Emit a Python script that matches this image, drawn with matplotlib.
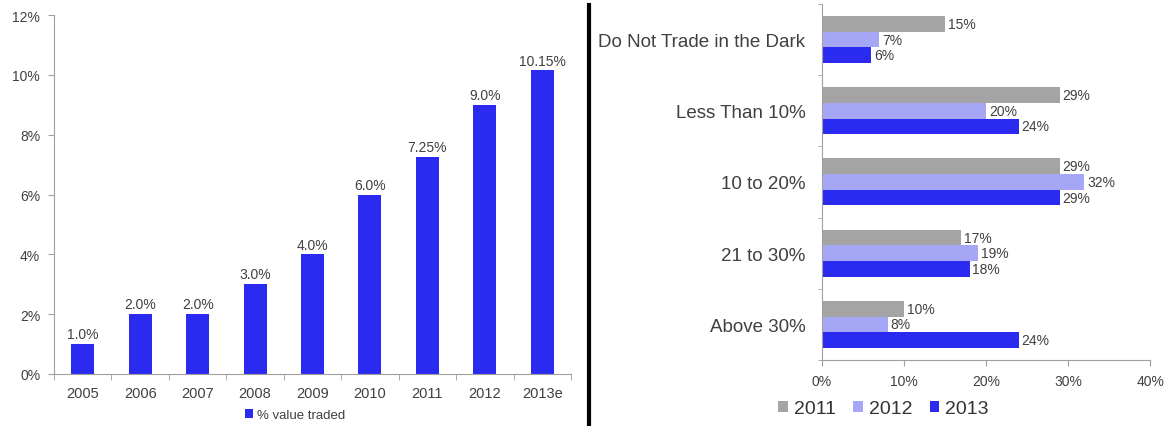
import matplotlib
matplotlib.use("Agg")
import matplotlib.pyplot as plt
import matplotlib.ticker as mtick
import numpy as np
from matplotlib.lines import Line2D

plt.rcParams['font.family'] = ['Liberation Sans', 'DejaVu Sans']

# left panel: share of value traded per year
years = ["2005", "2006", "2007", "2008", "2009", "2010", "2011", "2012", "2013e"]
value_traded = [1.0, 2.0, 2.0, 3.0, 4.0, 6.0, 7.25, 9.0, 10.15]
value_labels = ["1.0%", "2.0%", "2.0%", "3.0%", "4.0%", "6.0%", "7.25%", "9.0%", "10.15%"]

# right panel: survey buckets by year
buckets = ["Do Not Trade in the Dark", "Less Than 10%", "10 to 20%", "21 to 30%", "Above 30%"]
share_2011 = [15, 29, 29, 17, 10]
share_2012 = [7, 20, 32, 19, 8]
share_2013 = [6, 24, 29, 18, 24]

BLUE = "#2a2af0"
LILAC = "#a6a6f6"
GREY = "#a4a4a4"
TXT = "#404040"
SPINE = "#a0a0a0"

fig = plt.figure(figsize=(11.67, 4.27), dpi=100)

# ---- left bar chart
ax1 = fig.add_axes([0.0463, 0.1218, 0.443, 0.8407])
x = np.arange(len(years))
bars = ax1.bar(x, value_traded, width=0.40, color=BLUE, label="% value traded", zorder=2)
for xi, v, lab in zip(x, value_traded, value_labels):
    ax1.annotate(lab, (xi, v), xytext=(0, 2), textcoords="offset points",
                 ha="center", va="bottom", fontsize=10, color=TXT)
ax1.set_xlim(-0.5, len(years) - 0.5)
ax1.set_ylim(0, 12)
ax1.set_yticks(np.arange(0, 13, 2))
ax1.yaxis.set_major_formatter(mtick.FormatStrFormatter('%d%%'))
ax1.set_xticks(x)
ax1.set_xticklabels(years)
ax1.set_xticks(np.arange(-0.5, len(years), 1), minor=True)
ax1.tick_params(axis="x", which="major", length=0, pad=9, labelsize=10.5, labelcolor=TXT)
ax1.tick_params(axis="x", which="minor", length=4, color=SPINE)
ax1.tick_params(axis="y", length=4, color=SPINE, labelsize=10, labelcolor=TXT, pad=6)
for s in ["top", "right"]:
    ax1.spines[s].set_visible(False)
for s in ["left", "bottom"]:
    ax1.spines[s].set_color(SPINE)
fig.legend(handles=[bars], loc="center", bbox_to_anchor=(0.253, 0.025), frameon=False,
           fontsize=9.5, handlelength=0.6, handleheight=0.6, handletextpad=0.3,
           labelcolor=TXT)

# ---- right grouped horizontal bars
ax2 = fig.add_axes([0.7044, 0.1546, 0.2811, 0.8337])
y = np.arange(len(buckets))
h = 0.22
series = [(share_2011, GREY, "2011", -h), (share_2012, LILAC, "2012", 0), (share_2013, BLUE, "2013", h)]
handles = []
for vals, col, name, off in series:
    b = ax2.barh(y + off, vals, height=h, color=col, label=name, zorder=2)
    handles.append(b)
    for yi, v in zip(y, vals):
        ax2.annotate(f"{v}%", (v, yi + off), xytext=(2, 0), textcoords="offset points",
                     ha="left", va="center", fontsize=10, color=TXT)
ax2.set_ylim(len(buckets) - 0.5, -0.5)
ax2.set_xlim(0, 40)
ax2.set_xticks(np.arange(0, 41, 10))
ax2.xaxis.set_major_formatter(mtick.FormatStrFormatter('%d%%'))
ax2.set_yticks(y)
ax2.set_yticklabels(buckets)
ax2.set_yticks(np.arange(-0.5, len(buckets), 1), minor=True)
ax2.tick_params(axis="y", which="major", length=0, pad=12, labelsize=13.5, labelcolor=TXT)
ax2.tick_params(axis="y", which="minor", length=3, color=SPINE)
ax2.tick_params(axis="x", length=4, color=SPINE, labelsize=10, labelcolor=TXT, pad=6)
for s in ["top", "right"]:
    ax2.spines[s].set_visible(False)
for s in ["left", "bottom"]:
    ax2.spines[s].set_color(SPINE)
fig.legend(handles=handles, loc="center", bbox_to_anchor=(0.757, 0.04), ncol=3, frameon=False,
           fontsize=14, handlelength=0.5, handleheight=0.5, handletextpad=0.3,
           columnspacing=0.9, labelcolor="#333333")

# divider between the two panels
fig.add_artist(Line2D([0.5047, 0.5047], [0.0, 0.986], transform=fig.transFigure,
                      color="black", linewidth=3))

fig.savefig("out.png", dpi=100)
